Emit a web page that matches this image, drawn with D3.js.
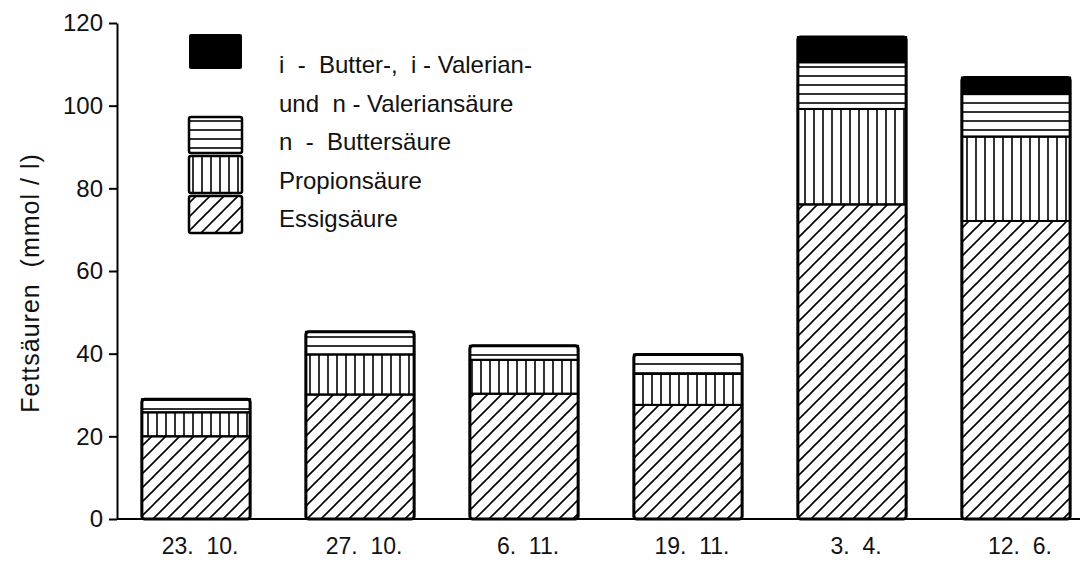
<!DOCTYPE html>
<html>
<head>
<meta charset="utf-8">
<script src="https://cdn.jsdelivr.net/npm/d3@7"></script>
<style>
  body { margin: 0; background: #fff; }
  svg { display: block; font-family: "Liberation Sans", Arial, sans-serif; }
  text { white-space: pre; }
</style>
</head>
<body>
<svg id="chart"></svg>
<script>
'use strict';

// data (mmol / l)
var categories = ['23.  10.', '27.  10.', '6.  11.', '19.  11.', '3.  4.', '12.  6.'];
var essig   = [20.0, 30.1, 30.3, 27.6, 76.1, 72.1];
var propion = [5.8, 9.7, 8.2, 7.5, 23.1, 20.4];
var nButter = [3.2, 5.5, 3.4, 4.7, 11.3, 10.3];
var iRest   = [0, 0, 0, 0, 6.1, 4.0];
var yTicks  = [0, 20, 40, 60, 80, 100, 120];
var seriesNames = ['Essigsäure', 'Propionsäure', 'n  -  Buttersäure',
                   'i  -  Butter-,  i - Valerian-  und  n - Valeriansäure'];

var width = 1080, height = 563;
var margin = {top: 23, left: 117, bottom: 44};

var svg = d3.select('#chart').attr('width', width).attr('height', height);

// patterns
var defs = svg.append('defs');
var hatch = defs.append('pattern').attr('id', 'hatch')
    .attr('patternUnits', 'userSpaceOnUse').attr('width', 14).attr('height', 14);
hatch.append('path').attr('d', 'M-2,16 L16,-2 M-9,9 L9,-9 M5,23 L23,5')
    .attr('stroke', '#000').attr('stroke-width', 1.6);

var vert = defs.append('pattern').attr('id', 'vert')
    .attr('patternUnits', 'userSpaceOnUse').attr('width', 9).attr('height', 10);
vert.append('line').attr('x1', 4).attr('x2', 4).attr('y1', 0).attr('y2', 10)
    .attr('stroke', '#000').attr('stroke-width', 1.6);

var horiz = defs.append('pattern').attr('id', 'horiz')
    .attr('patternUnits', 'userSpaceOnUse').attr('width', 10).attr('height', 9);
horiz.append('line').attr('x1', 0).attr('x2', 10).attr('y1', 4).attr('y2', 4)
    .attr('stroke', '#000').attr('stroke-width', 1.6);

var fills = ['url(#hatch)', 'url(#vert)', 'url(#horiz)', '#000'];

// scales
var y = d3.scaleLinear().domain([0, 120]).range([height - margin.bottom, margin.top]);
var x = d3.scaleBand().domain(categories).range([114, 1098])
    .paddingInner(0.34).paddingOuter(0.17);

// stack the series
var rows = categories.map(function(c, i) {
    return {cat: c, s0: essig[i], s1: propion[i], s2: nButter[i], s3: iRest[i]};
});
var stack = d3.stack().keys(['s0', 's1', 's2', 's3'])(rows);

var bars = svg.append('g');
stack.forEach(function(layer, k) {
    bars.selectAll('.seg' + k)
        .data(layer.filter(function(d) { return d[1] - d[0] > 0; }))
        .enter().append('rect')
        .attr('class', 'seg' + k)
        .attr('x', function(d) { return x(d.data.cat); })
        .attr('y', function(d) { return y(d[1]); })
        .attr('width', x.bandwidth())
        .attr('height', function(d) { return y(d[0]) - y(d[1]); })
        .attr('fill', fills[k])
        .attr('stroke', '#000')
        .attr('stroke-width', 2);
});

// bar outlines
bars.selectAll('.outline')
    .data(rows)
    .enter().append('rect')
    .attr('class', 'outline')
    .attr('x', function(d) { return x(d.cat); })
    .attr('y', function(d) { return y(d.s0 + d.s1 + d.s2 + d.s3); })
    .attr('width', x.bandwidth())
    .attr('height', function(d) { return y(0) - y(d.s0 + d.s1 + d.s2 + d.s3); })
    .attr('rx', 3)
    .attr('fill', 'none')
    .attr('stroke', '#000')
    .attr('stroke-width', 3);

// y axis
var yAxis = svg.append('g')
    .attr('transform', 'translate(' + margin.left + ',0)')
    .call(d3.axisLeft(y).tickValues(yTicks).tickSize(8).tickSizeOuter(0).tickPadding(6));
yAxis.select('.domain').attr('stroke-width', 2);
yAxis.selectAll('.tick line').attr('stroke-width', 2);
yAxis.selectAll('.tick text').attr('font-size', 24).attr('fill', '#111')
    .attr('font-family', '"Liberation Sans", Arial, sans-serif');

// x axis
var xAxis = svg.append('g')
    .attr('transform', 'translate(0,' + y(0) + ')')
    .call(d3.axisBottom(x).tickSize(0).tickPadding(19));
xAxis.select('.domain').remove();
xAxis.selectAll('.tick text').attr('font-size', 23).attr('fill', '#111')
    .attr('dx', 4)
    .attr('font-family', '"Liberation Sans", Arial, sans-serif');
svg.append('line')
    .attr('x1', margin.left).attr('x2', width)
    .attr('y1', y(0)).attr('y2', y(0))
    .attr('stroke', '#000').attr('stroke-width', 2);

// y title
svg.append('text')
    .attr('transform', 'translate(39,283) rotate(-90)')
    .attr('text-anchor', 'middle')
    .attr('font-size', 25)
    .attr('letter-spacing', 1)
    .attr('fill', '#111')
    .text('Fettsäuren  (mmol / l)');

// legend
var legend = svg.append('g');
var legendBoxes = [
    {k: 3, y: 34, h: 35},
    {k: 2, y: 117, h: 36},
    {k: 1, y: 156, h: 37},
    {k: 0, y: 196, h: 37}
];
legend.selectAll('rect')
    .data(legendBoxes)
    .enter().append('rect')
    .attr('x', 189).attr('width', 53)
    .attr('y', function(d) { return d.y; })
    .attr('height', function(d) { return d.h; })
    .attr('rx', 2)
    .attr('fill', function(d) { return fills[d.k]; })
    .attr('stroke', '#000')
    .attr('stroke-width', function(d) { return d.k === 3 ? 0 : 2.5; });

var legendLines = [
    {t: 'i  -  Butter-,  i - Valerian-', y: 73},
    {t: 'und  n - Valeriansäure', y: 112},
    {t: seriesNames[2], y: 150},
    {t: seriesNames[1], y: 189},
    {t: seriesNames[0], y: 227}
];
legend.selectAll('text')
    .data(legendLines)
    .enter().append('text')
    .attr('x', 279)
    .attr('y', function(d) { return d.y; })
    .attr('font-size', 24)
    .attr('fill', '#111')
    .text(function(d) { return d.t; });
</script>
</body>
</html>
